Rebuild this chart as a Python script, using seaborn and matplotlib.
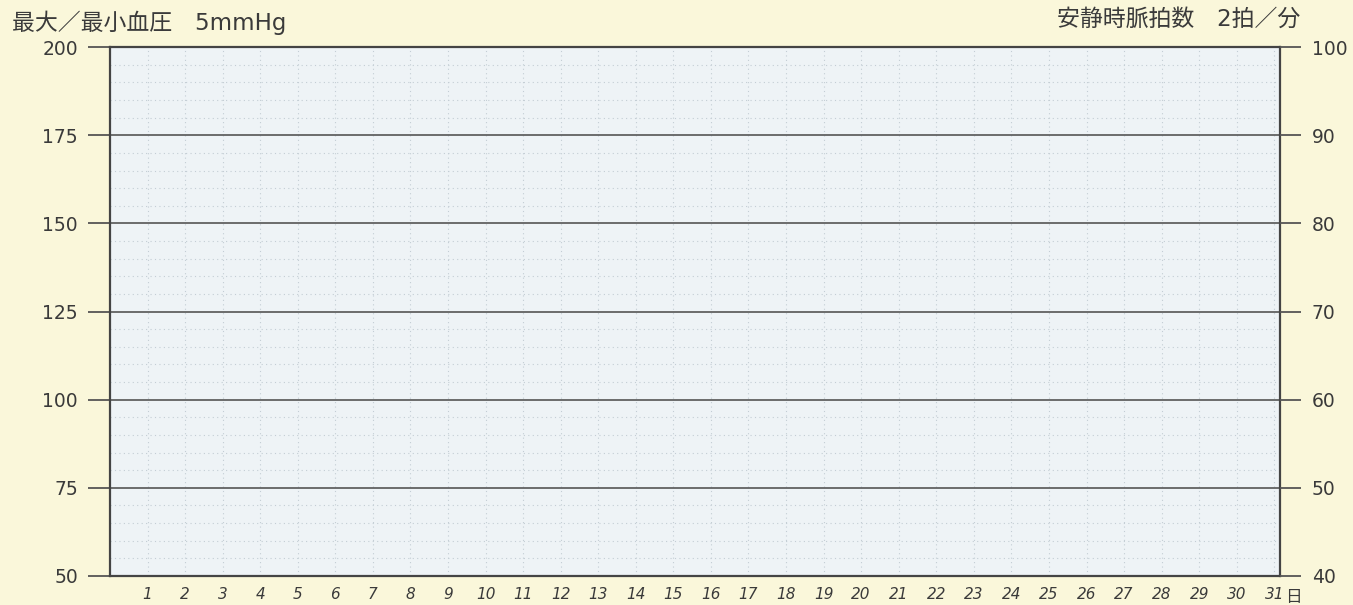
import matplotlib
matplotlib.use("Agg")
import matplotlib.pyplot as plt
import seaborn as sns
from matplotlib.ticker import MultipleLocator

# blank daily record sheet: blood pressure (left) and resting pulse (right)
days = list(range(1, 32))
day_labels = [str(d) for d in days]
bp_ticks = [50, 75, 100, 125, 150, 175, 200]
pulse_ticks = [40, 50, 60, 70, 80, 90, 100]
bp_step = 5

sns.set_theme(style="white")
plt.rcParams['font.family'] = ['DejaVu Sans', 'Noto Sans CJK JP']

paper = "#faf7da"
face = "#eef3f6"
ink = "#3a3a3a"

fig = plt.figure(figsize=(13.53, 6.05), dpi=100, facecolor=paper)
ax = fig.add_axes([0.0813, 0.048, 0.8647, 0.874])
ax.set_facecolor(face)

ax.set_xlim(0, 31.15)
ax.set_ylim(bp_ticks[0], bp_ticks[-1])
ax.set_xticks(days)
ax.set_xticklabels(day_labels, fontsize=11, style="italic", color=ink)
ax.set_yticks(bp_ticks)
ax.set_yticklabels([str(v) for v in bp_ticks], fontsize=13.5, color=ink)
ax.yaxis.set_minor_locator(MultipleLocator(bp_step))

ax.tick_params(axis="x", length=0, pad=8)
ax.tick_params(axis="y", which="major", length=16, width=1.3, color="#555555", pad=7)
ax.tick_params(axis="y", which="minor", length=0)

# grid: solid every 25 mmHg, dotted every 5 mmHg and every day
ax.grid(axis="y", which="major", color="#555555", lw=1.2, ls="-")
ax.grid(axis="y", which="minor", color="#c3cdd4", lw=0.8, ls=(0, (1, 3)))
ax.grid(axis="x", which="major", color="#c3cdd4", lw=0.8, ls=(0, (1, 3)))
ax.set_axisbelow(True)

for side in ["left", "bottom", "right", "top"]:
    ax.spines[side].set_visible(True)
    ax.spines[side].set_color("#444444")
    ax.spines[side].set_linewidth(1.6)

# resting pulse on the right
ax2 = ax.twinx()
ax2.set_ylim(pulse_ticks[0], pulse_ticks[-1])
ax2.set_yticks(pulse_ticks)
ax2.set_yticklabels([str(v) for v in pulse_ticks], fontsize=13.5, color=ink)
ax2.tick_params(axis="y", length=15, width=1.3, color="#555555", pad=8)
ax2.grid(False)
for side in ["left", "bottom", "right", "top"]:
    ax2.spines[side].set_visible(False)

ax.annotate("日", xy=(days[-1], 0), xycoords=ax.get_xaxis_transform(),
            xytext=(8, -15), textcoords="offset points",
            ha="left", va="center", fontsize=12, color=ink)

fig.text(0.009, 0.963, "最大／最小血圧　5mmHg", fontsize=16.5, color=ink,
         ha="left", va="center")
fig.text(0.961, 0.968, "安静時脈拍数　2拍／分", fontsize=16.5, color=ink,
         ha="right", va="center")

fig.savefig("out.png", dpi=100, facecolor=paper)
